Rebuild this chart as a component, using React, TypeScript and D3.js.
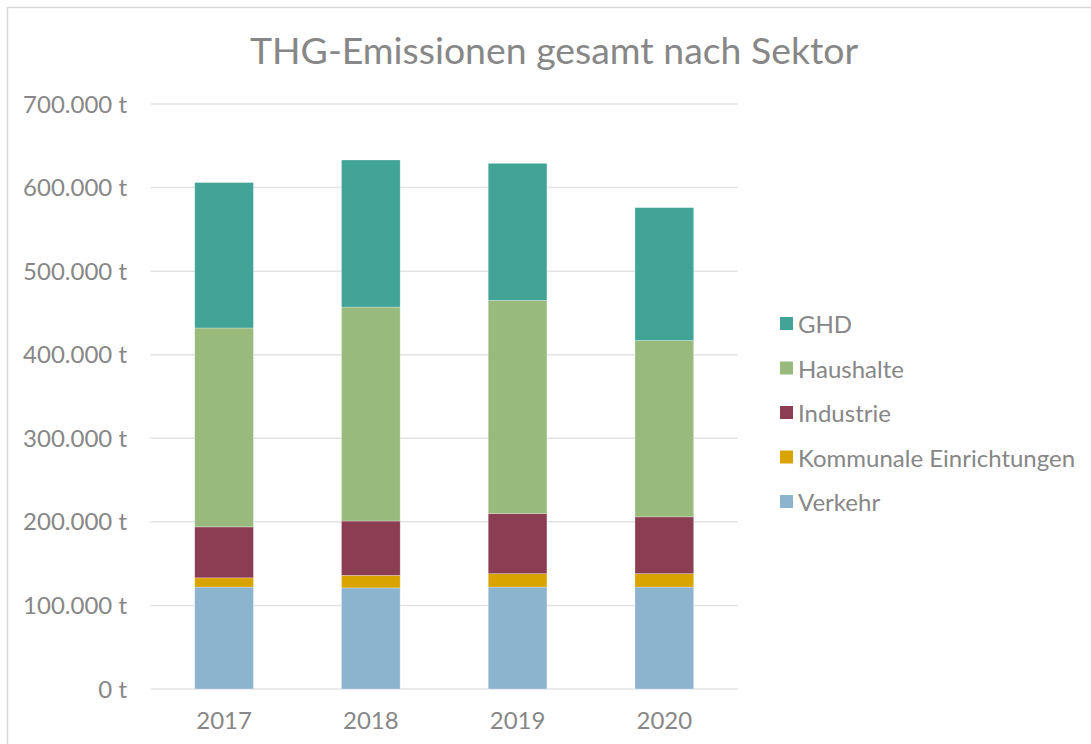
import React, { useEffect, useRef } from 'react'
import * as d3 from 'd3'

const years = ['2017', '2018', '2019', '2020']
const sectors = ['Verkehr', 'Kommunale Einrichtungen', 'Industrie', 'Haushalte', 'GHD']
const verkehr = [122000, 121000, 122000, 122000]
const kommunale = [11000, 15000, 16000, 16000]
const industrie = [61000, 65000, 72000, 68000]
const haushalte = [238000, 256000, 255000, 211000]
const ghd = [174000, 176000, 164000, 159000]
const colors = ['#8DB4CF', '#D9A300', '#8B3D52', '#98BB7D', '#41A496']
const yTicks = [0, 100000, 200000, 300000, 400000, 500000, 600000, 700000]

const App = () => {
    const ref = useRef<SVGSVGElement | null>(null)

    useEffect(() => {
        const svg = d3.select(ref.current)
        svg.selectAll('*').remove()

        const width = 1091
        const height = 744
        const left = 150.7
        const right = 737.7
        const top = 104
        const bottom = 689
        const textColor = '#878787'
        const font = 'Lato, sans-serif'

        const table = years.map((year, i) => ({
            year,
            Verkehr: verkehr[i],
            'Kommunale Einrichtungen': kommunale[i],
            Industrie: industrie[i],
            Haushalte: haushalte[i],
            GHD: ghd[i],
        }))

        const stacked = d3.stack<any>().keys(sectors)(table)

        const xScale = d3.scaleBand().domain(years).range([left, right]).paddingInner(0.6).paddingOuter(0.3)
        const yScale = d3.scaleLinear().domain([0, 700000]).range([bottom, top])
        const color = d3.scaleOrdinal<string, string>().domain(sectors).range(colors)

        // frame
        svg.append('rect')
            .attr('x', 7.5).attr('y', 7.5)
            .attr('width', width).attr('height', height)
            .attr('fill', '#fff')
            .attr('stroke', '#d9d9d9')
            .attr('stroke-width', 1.5)

        // title
        svg.append('text')
            .attr('x', 554).attr('y', 64)
            .attr('text-anchor', 'middle')
            .attr('font-family', font)
            .attr('font-size', '37.4px')
            .attr('fill', textColor)
            .text('THG-Emissionen gesamt nach Sektor')

        // gridlines
        svg.append('g')
            .selectAll('line')
            .data(yTicks)
            .join('line')
            .attr('x1', left).attr('x2', right)
            .attr('y1', d => yScale(d)).attr('y2', d => yScale(d))
            .attr('stroke', '#e3e3e3')
            .attr('stroke-width', 1.5)

        // y labels
        const fmt = d3.formatLocale({ decimal: ',', thousands: '.', grouping: [3], currency: ['', ' €'] }).format(',.0f')
        svg.append('g')
            .selectAll('text')
            .data(yTicks)
            .join('text')
            .attr('x', 127)
            .attr('y', d => yScale(d) + 8.5)
            .attr('text-anchor', 'end')
            .attr('font-family', font)
            .attr('font-size', '24px')
            .attr('fill', textColor)
            .text(d => fmt(d) + ' t')

        // bars
        svg.append('g')
            .selectAll('g')
            .data(stacked)
            .join('g')
            .attr('fill', d => color(d.key))
            .selectAll('rect')
            .data(d => d)
            .join('rect')
            .attr('x', d => xScale(d.data.year) as number)
            .attr('width', xScale.bandwidth())
            .attr('y', d => yScale(d[1]))
            .attr('height', d => yScale(d[0]) - yScale(d[1]))
            .attr('stroke', '#ffffff')
            .attr('stroke-opacity', 0.35)
            .attr('stroke-width', 0.75)

        // x labels
        svg.append('g')
            .selectAll('text')
            .data(years)
            .join('text')
            .attr('x', d => (xScale(d) as number) + xScale.bandwidth() / 2)
            .attr('y', 728.5)
            .attr('text-anchor', 'middle')
            .attr('font-family', font)
            .attr('font-size', '24px')
            .attr('fill', textColor)
            .text(d => d)

        // legend
        const legendOrder = [...sectors].reverse()
        const legend = svg.append('g')
            .selectAll('g')
            .data(legendOrder)
            .join('g')
            .attr('transform', (d, i) => `translate(780, ${333 + i * 44.5})`)

        legend.append('rect')
            .attr('x', 0).attr('y', -16)
            .attr('width', 13).attr('height', 13)
            .attr('fill', d => color(d))

        legend.append('text')
            .attr('x', 18).attr('y', 0)
            .attr('font-family', font)
            .attr('font-size', '24px')
            .attr('fill', textColor)
            .text(d => d)
    }, [])

    return (
        <svg ref={ref} width={1091} height={744}
            style={{ position: 'absolute', left: 0, top: 0, display: 'block', background: '#fff' }} />
    )
}

export default App
